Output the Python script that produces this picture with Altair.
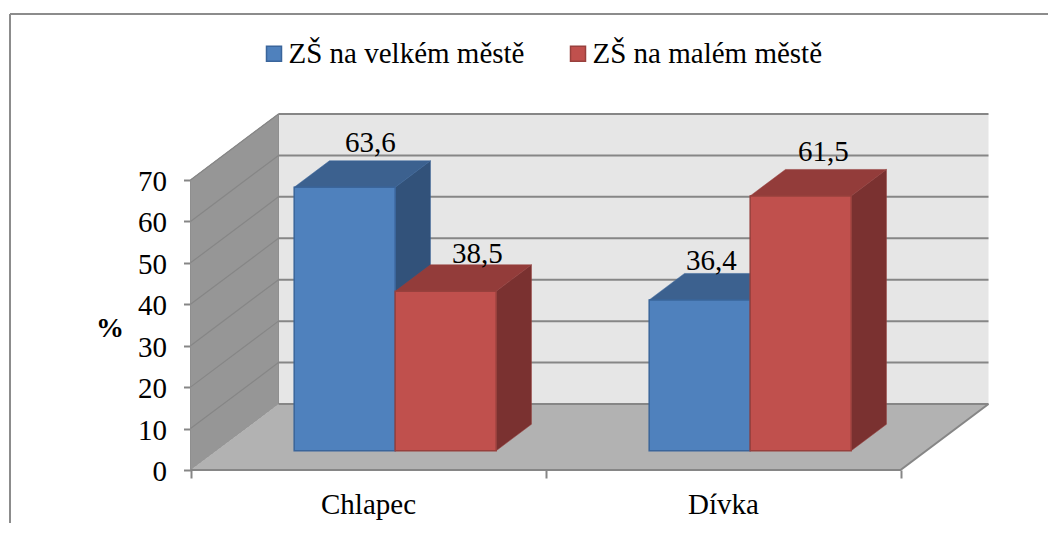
import altair as alt
import pandas as pd

categories = ["Chlapec", "Dívka"]
series = ["ZŠ na velkém městě", "ZŠ na malém městě"]
values_big = [63.6, 36.4]
values_small = [38.5, 61.5]
ticks = [0, 10, 20, 30, 40, 50, 60, 70]

FONT = "Liberation Serif"
GRID = "#868686"
front = ["#4f81bd", "#c0504d"]
edge = ["#3a659b", "#98403d"]
topc = ["#3c618f", "#933c3a"]
sidec = ["#32527a", "#7a3130"]

# Oblique projection: depth 0..1 moves along the floor diagonal
DX, DY = 88 / 355, 66 / 4.143
W, H = 1038, 509
xs = alt.Scale(domain=[(10 - 190.5) / 355, (10 + W - 190.5) / 355], nice=False, zero=False)
ys = alt.Scale(domain=[(470 - 14 - H) / 4.143, (470 - 14) / 4.143], nice=False, zero=False)
D0, D1 = 0.292, 0.693
SLOTS = [(0.2197, 0.5042), (0.5042, 0.7887)]
X_MAX = 2
V_MAX = ticks[-1]
TXT = 29


def px(u, d):
    return u + d * DX


def py(v, d):
    return v + d * DY


y_axis = alt.Axis(values=ticks, offset=-180.5, domain=False, grid=False, tickColor=GRID, tickWidth=2,
                  tickSize=7, labelFont=FONT, labelFontSize=TXT, labelColor="#000", labelPadding=17,
                  labelOffset=1.5, labelOverlap=False, labelFlush=False, labelBound=False, title="%",
                  titleFont=FONT, titleFontSize=28, titleFontWeight="bold", titleColor="#000",
                  titleAngle=0, titleX=-81, titleY=322.5, titleAlign="center", titleBaseline="alphabetic")
x_axis = alt.Axis(values=[0, 0.5, 1, 1.5, 2], offset=-(14 + H - 470), domain=False, grid=False, tickColor=GRID,
                  tickWidth=2, tickSize=8,
                  tickOpacity={"condition": {"test": "datum.value % 1 != 0", "value": 0}, "value": 1},
                  labelExpr=f"datum.value == 0.5 ? '{categories[0]}' : datum.value == 1.5 ? '{categories[1]}' : ''",
                  labelFont=FONT, labelFontSize=TXT, labelColor="#000", labelPadding=12,
                  labelOverlap=False, labelFlush=False, labelBound=False, title=None)


def X(f="x"):
    return alt.X(f, type="quantitative", scale=xs, axis=x_axis, stack=None)


def Y(f="y"):
    return alt.Y(f, type="quantitative", scale=ys, axis=y_axis, stack=None)


# Walls and floor
back = alt.Chart(pd.DataFrame([{"x": px(0, 1), "x2": px(X_MAX, 1), "y": py(0, 1), "y2": py(V_MAX, 1)}])).mark_rect(
    fill="#e6e6e6").encode(X(), x2="x2:Q", y=Y(), y2="y2:Q")
wall = alt.Chart(pd.DataFrame([{"x": px(0, d), "y": py(0, d), "y2": py(V_MAX, d)} for d in (0, 1)])).mark_area(
    fill="#969696", stroke="#8f8f8f", strokeWidth=1, orient="vertical").encode(X(), Y(), y2="y2:Q")
floor = alt.Chart(pd.DataFrame([{"y": py(0, d), "x": px(0, d), "x2": px(X_MAX, d)} for d in (0, 1)])).mark_area(
    fill="#b2b2b2", orient="horizontal").encode(X(), x2="x2:Q", y=Y())
floor_edges = alt.Chart(pd.DataFrame(
    [{"k": "f", "o": 0, "x": px(0, 0), "y": 0}, {"k": "f", "o": 1, "x": px(X_MAX, 0), "y": 0},
     {"k": "f", "o": 2, "x": px(X_MAX, 1), "y": py(0, 1)}])).mark_line(
    color=GRID, strokeWidth=2).encode(X(), Y(), detail="k:N", order="o:Q")

grid_back = alt.Chart(pd.DataFrame([{"x": px(0, 1), "x2": px(X_MAX, 1), "y": py(v, 1)} for v in ticks])).mark_rule(
    color=GRID, strokeWidth=2).encode(X(), x2="x2:Q", y=Y())
grid_wall = alt.Chart(pd.DataFrame([{"v": v, "o": d, "x": px(0, d), "y": py(v, d)} for v in ticks[1:] for d in (0, 1)])).mark_line(
    color=GRID, strokeWidth=1.2).encode(X(), Y(), detail="v:N", order="o:Q")

# Bars
all_values = [values_big, values_small]
layers = [back, wall, floor, grid_back, grid_wall, floor_edges]
fronts = []
for si, (name, vals) in enumerate(zip(series, all_values)):
    side_rows, top_rows = [], []
    for ci, v in enumerate(vals):
        u0, u1 = ci + SLOTS[si][0], ci + SLOTS[si][1]
        for d in (D0, D1):
            side_rows.append({"b": ci, "x": px(u1, d), "y": py(v, d), "y2": py(0, d)})
            top_rows.append({"b": ci, "y": py(v, d), "x": px(u0, d), "x2": px(u1, d)})
        fronts.append({"series": name, "x": px(u0, D0), "x2": px(u1, D0), "y": py(v, D0), "y2": py(0, D0)})
    layers.append(alt.Chart(pd.DataFrame(top_rows)).mark_area(
        fill=topc[si], stroke=edge[si], strokeWidth=1, strokeOpacity=0.5, orient="horizontal").encode(
        X(), x2="x2:Q", y=Y(), detail="b:N"))
    layers.append(alt.Chart(pd.DataFrame(side_rows)).mark_area(
        fill=sidec[si], stroke=edge[si], strokeWidth=1, strokeOpacity=0.5, orient="vertical").encode(
        X(), Y(), y2="y2:Q", detail="b:N"))

legend = alt.Legend(orient="none", legendX=249.5, legendY=25, direction="horizontal", title=None,
                    symbolType="square", symbolSize=225, symbolStrokeWidth=1.5, labelFont=FONT, labelFontSize=TXT,
                    labelColor="#000", labelOffset=0, columnPadding=39, labelLimit=400, padding=0)
front_layer = alt.Chart(pd.DataFrame(fronts)).mark_rect(strokeWidth=1.5).encode(
    X(), x2="x2:Q", y=Y(), y2="y2:Q",
    fill=alt.Fill("series:N", scale=alt.Scale(domain=series, range=front), legend=legend, sort=series),
    stroke=alt.Stroke("series:N", scale=alt.Scale(domain=series, range=edge), legend=legend, sort=series),
    order=alt.Order("series:N", sort="descending"),
)
layers.append(front_layer)

# Value labels, each with its own nudge from the bar's top
nudges = [[(8, -35), (-6, -30)], [(14, -28), (5, -35)]]
for si, vals in enumerate(all_values):
    for ci, v in enumerate(vals):
        u0, u1 = ci + SLOTS[si][0], ci + SLOTS[si][1]
        row = {"t": f"{v}".replace(".", ","), "x": px((u0 + u1) / 2, (D0 + D1) / 2), "y": py(v, D0)}
        layers.append(alt.Chart(pd.DataFrame([row])).mark_text(
            font=FONT, fontSize=TXT, color="#000", baseline="alphabetic", align="center",
            dx=nudges[si][ci][0], dy=nudges[si][ci][1]).encode(X(), Y(), text="t:N"))

# Chart frame: top and left edges only
layers.append(alt.Chart(pd.DataFrame([{"a": 0}])).mark_rule(color="#8c8c8c", strokeWidth=2).encode(x=alt.value(0)))
layers.append(alt.Chart(pd.DataFrame([{"a": 0}])).mark_rule(color="#8c8c8c", strokeWidth=2).encode(y=alt.value(0)))

chart = alt.layer(*layers).properties(
    width=W, height=H, padding={"left": 2, "top": 6, "right": 0, "bottom": 0},
    autosize=alt.AutoSizeParams(type="none"), background="white",
).configure_view(stroke=None)

chart.save("out.html", embed_options={"renderer": "svg", "actions": False})
